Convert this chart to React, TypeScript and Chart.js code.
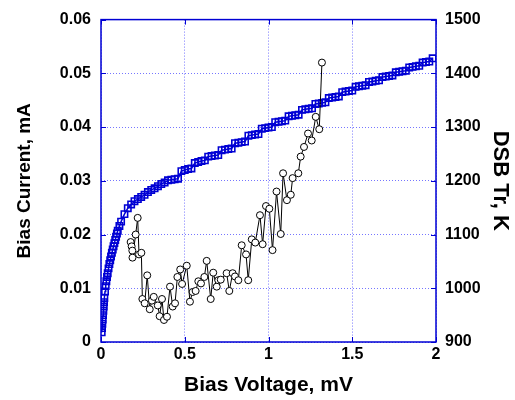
import React, { useEffect, useRef } from "react";
import { Chart, registerables } from "chart.js";

Chart.register(...registerables);

// Bias current vs bias voltage (left axis)
const ivVoltage = [
  0.004, 0.006, 0.008, 0.01, 0.012, 0.014, 0.016, 0.018, 0.02, 0.024, 0.028, 0.032, 0.036, 0.04,
  0.045, 0.05, 0.055, 0.06, 0.065, 0.07, 0.075, 0.08, 0.085, 0.09, 0.095, 0.1, 0.11,
  0.12, 0.14, 0.16, 0.18, 0.2, 0.22, 0.24, 0.26, 0.28, 0.3, 0.32, 0.34, 0.36, 0.38,
  0.4, 0.42, 0.44, 0.46, 0.48, 0.5, 0.52, 0.54, 0.56, 0.58, 0.6, 0.62,
  0.64, 0.66, 0.68, 0.7, 0.72, 0.74, 0.76, 0.78, 0.8, 0.82, 0.84, 0.86,
  0.88, 0.9, 0.92, 0.94, 0.96, 0.98, 1.0, 1.02, 1.04, 1.06, 1.08, 1.1,
  1.12, 1.14, 1.16, 1.18, 1.2, 1.22, 1.24, 1.26, 1.28, 1.3, 1.32, 1.34,
  1.36, 1.38, 1.4, 1.42, 1.44, 1.46, 1.48, 1.5, 1.52, 1.54, 1.56, 1.58,
  1.6, 1.62, 1.64, 1.66, 1.68, 1.7, 1.72, 1.74, 1.76, 1.78, 1.8, 1.82,
  1.84, 1.86, 1.88, 1.9, 1.92, 1.94, 1.96, 1.98,
];
const ivCurrent = [
  0.0018, 0.0026, 0.0034, 0.0042, 0.005, 0.0058, 0.0066, 0.0074, 0.0082, 0.0094, 0.0104, 0.0113, 0.0121, 0.0128,
  0.0137, 0.0145, 0.0152, 0.0159, 0.0166, 0.0172, 0.0178, 0.0184, 0.019, 0.0196, 0.0202, 0.0207, 0.0216,
  0.0224, 0.0238, 0.0249, 0.0256, 0.0262, 0.0266, 0.027, 0.0274, 0.0279, 0.0283, 0.0286, 0.029, 0.0294, 0.0297,
  0.0301, 0.0302, 0.0303, 0.0304, 0.0318, 0.032, 0.0322, 0.0323, 0.0333, 0.0335, 0.0337, 0.0338,
  0.0345, 0.0346, 0.0347, 0.0348, 0.0357, 0.0358, 0.0359, 0.036, 0.037, 0.0371, 0.0372, 0.0373,
  0.0384, 0.0385, 0.0386, 0.0387, 0.0397, 0.0398, 0.0399, 0.04, 0.0409, 0.041, 0.0411, 0.0412,
  0.042, 0.0421, 0.0422, 0.0423, 0.0432, 0.0433, 0.0434, 0.0435, 0.0443, 0.0444, 0.0445, 0.0446,
  0.0454, 0.0455, 0.0456, 0.0457, 0.0465, 0.0466, 0.0467, 0.0468, 0.0475, 0.0476, 0.0477, 0.0478,
  0.0484, 0.0485, 0.0486, 0.0487, 0.0493, 0.0494, 0.0495, 0.0496, 0.0502, 0.0503, 0.0504, 0.0505,
  0.0511, 0.0512, 0.0513, 0.0514, 0.052, 0.0521, 0.0522, 0.0528,
];

// DSB receiver noise temperature vs bias voltage (right axis)
const trVoltage = [
  0.177, 0.183, 0.187, 0.188, 0.207, 0.219, 0.227, 0.241, 0.247, 0.261, 0.276, 0.291, 0.304, 0.315,
  0.339, 0.35, 0.364, 0.376, 0.394, 0.412, 0.428, 0.442, 0.456, 0.473, 0.484, 0.512, 0.531, 0.547,
  0.565, 0.581, 0.597, 0.617, 0.631, 0.655, 0.67, 0.691, 0.7, 0.715, 0.75, 0.766, 0.786, 0.8, 0.82,
  0.84, 0.866, 0.879, 0.9, 0.921, 0.949, 0.965, 0.985, 1.005, 1.024, 1.048, 1.073, 1.087, 1.11,
  1.133, 1.144, 1.178, 1.192, 1.212, 1.236, 1.258, 1.282, 1.303, 1.319,
];
const trTemperature = [
  1086, 1078, 1070, 1057, 1100, 1131, 1063, 1066, 980, 972, 1024, 961, 977, 984,
  968, 948, 980, 941, 947, 1003, 966, 972, 1021, 1035, 1008, 1042, 975, 993,
  995, 1013, 1009, 1021, 1051, 980, 1029, 1003, 1015, 1016, 1028, 995, 1028, 1022, 1015,
  1080, 1063, 1015, 1091, 1085, 1136, 1082, 1153, 1148, 1071, 1180, 1101, 1214, 1164,
  1174, 1205, 1214, 1245, 1263, 1288, 1275, 1319, 1296, 1420,
];

const xTickValues = [0, 0.5, 1, 1.5, 2];
const leftTickValues = [0, 0.01, 0.02, 0.03, 0.04, 0.05, 0.06];
const rightTickValues = [900, 1000, 1100, 1200, 1300, 1400, 1500];

const BLUE = "#0000d4";
const GRID = "rgba(60,60,255,0.7)";
const FONT = "'Liberation Sans', Arial, Helvetica, sans-serif";

const framePlugin = {
  id: "frame",
  beforeDatasetsDraw(chart: any) {
    const { ctx, chartArea: a, scales } = chart;
    ctx.save();
    ctx.strokeStyle = BLUE;
    ctx.lineWidth = 1.5;
    ctx.strokeRect(a.left, a.top, a.right - a.left, a.bottom - a.top);
    ctx.lineWidth = 1;
    const len = 5;
    ctx.beginPath();
    xTickValues.forEach((v) => {
      const px = Math.round(scales.x.getPixelForValue(v)) + 0.5;
      ctx.moveTo(px, a.bottom);
      ctx.lineTo(px, a.bottom - len);
      ctx.moveTo(px, a.top);
      ctx.lineTo(px, a.top + len);
    });
    leftTickValues.forEach((v) => {
      const py = Math.round(scales.y.getPixelForValue(v)) + 0.5;
      ctx.moveTo(a.left, py);
      ctx.lineTo(a.left + len, py);
      ctx.moveTo(a.right, py);
      ctx.lineTo(a.right - len, py);
    });
    ctx.stroke();
    ctx.restore();
  },
};

const fmt = (v: number) => String(parseFloat(Number(v).toFixed(3)));

export default function App() {
  const canvasRef = useRef<HTMLCanvasElement | null>(null);

  useEffect(() => {
    const canvas = canvasRef.current;
    if (!canvas) return;
    const tickFont = { family: FONT, size: 16, weight: "bold" as const };

    const chart = new Chart(canvas, {
      type: "scatter",
      data: {
        datasets: [
          {
            label: "DSB Tr, K",
            data: trVoltage.map((v, i) => ({ x: v, y: trTemperature[i] })),
            yAxisID: "y2",
            showLine: true,
            borderColor: "#000000",
            borderWidth: 1,
            pointStyle: "circle",
            pointRadius: 3.5,
            pointBorderWidth: 1,
            pointBorderColor: "#000000",
            pointBackgroundColor: "#ffffff",
            order: 0,
          },
          {
            label: "Bias Current, mA",
            data: ivVoltage.map((v, i) => ({ x: v, y: ivCurrent[i] })),
            yAxisID: "y",
            showLine: true,
            borderColor: BLUE,
            borderWidth: 1.5,
            pointStyle: "rect",
            pointRadius: 4.5,
            pointBorderWidth: 1.6,
            pointBorderColor: BLUE,
            pointBackgroundColor: "rgba(0,0,0,0)",
            order: 1,
          },
        ],
      },
      options: {
        responsive: false,
        animation: false,
        events: [],
        layout: { padding: { top: 19, left: 0, right: 0, bottom: 0 } },
        plugins: {
          legend: { display: false },
          tooltip: { enabled: false },
          title: { display: false },
        },
        scales: {
          x: {
            type: "linear",
            position: "bottom",
            min: 0,
            max: 2,
            afterBuildTicks: (s: any) => {
              s.ticks = xTickValues.map((v) => ({ value: v }));
            },
            afterFit: (s: any) => {
              s.height = 58;
            },
            ticks: {
              color: "#000",
              font: tickFont,
              padding: 3,
              maxRotation: 0,
              autoSkip: false,
              callback: (v: any) => fmt(v),
            },
            grid: { color: GRID, lineWidth: 1, drawTicks: false },
            border: { display: false, dash: [1, 2] },
            title: {
              display: true,
              text: "Bias Voltage, mV",
              color: "#000",
              font: { family: FONT, size: 21, weight: "bold" },
              padding: { top: 0, bottom: 2 },
            },
          },
          y: {
            type: "linear",
            position: "left",
            min: 0,
            max: 0.06,
            afterBuildTicks: (s: any) => {
              s.ticks = leftTickValues.map((v) => ({ value: v }));
            },
            afterFit: (s: any) => {
              s.width = 101;
            },
            ticks: {
              color: "#000",
              font: tickFont,
              padding: 10,
              autoSkip: false,
              callback: (v: any) => fmt(v),
            },
            grid: { color: GRID, lineWidth: 1, drawTicks: false },
            border: { display: false, dash: [1, 2] },
            title: {
              display: true,
              text: "Bias Current, mA",
              color: "#000",
              font: { family: FONT, size: 19, weight: "bold" },
              padding: { top: 13, bottom: 0 },
            },
          },
          y2: {
            type: "linear",
            position: "right",
            min: 900,
            max: 1500,
            afterBuildTicks: (s: any) => {
              s.ticks = rightTickValues.map((v) => ({ value: v }));
            },
            afterFit: (s: any) => {
              s.width = 79;
            },
            ticks: {
              color: "#000",
              font: tickFont,
              padding: 9,
              autoSkip: false,
              callback: (v: any) => fmt(v),
            },
            grid: { display: false, drawTicks: false },
            border: { display: false },
            title: {
              display: true,
              text: "DSB Tr, K",
              color: "#000",
              font: { family: FONT, size: 22, weight: "bold" },
              padding: { top: 2, bottom: 0 },
            },
          },
        },
      },
      plugins: [framePlugin],
    });

    return () => {
      chart.destroy();
    };
  }, []);

  return (
    <div style={{ position: "absolute", left: 0, top: 0, width: 515, height: 400, background: "#fff" }}>
      <canvas ref={canvasRef} width={515} height={400} style={{ display: "block", width: 515, height: 400 }} />
    </div>
  );
}
